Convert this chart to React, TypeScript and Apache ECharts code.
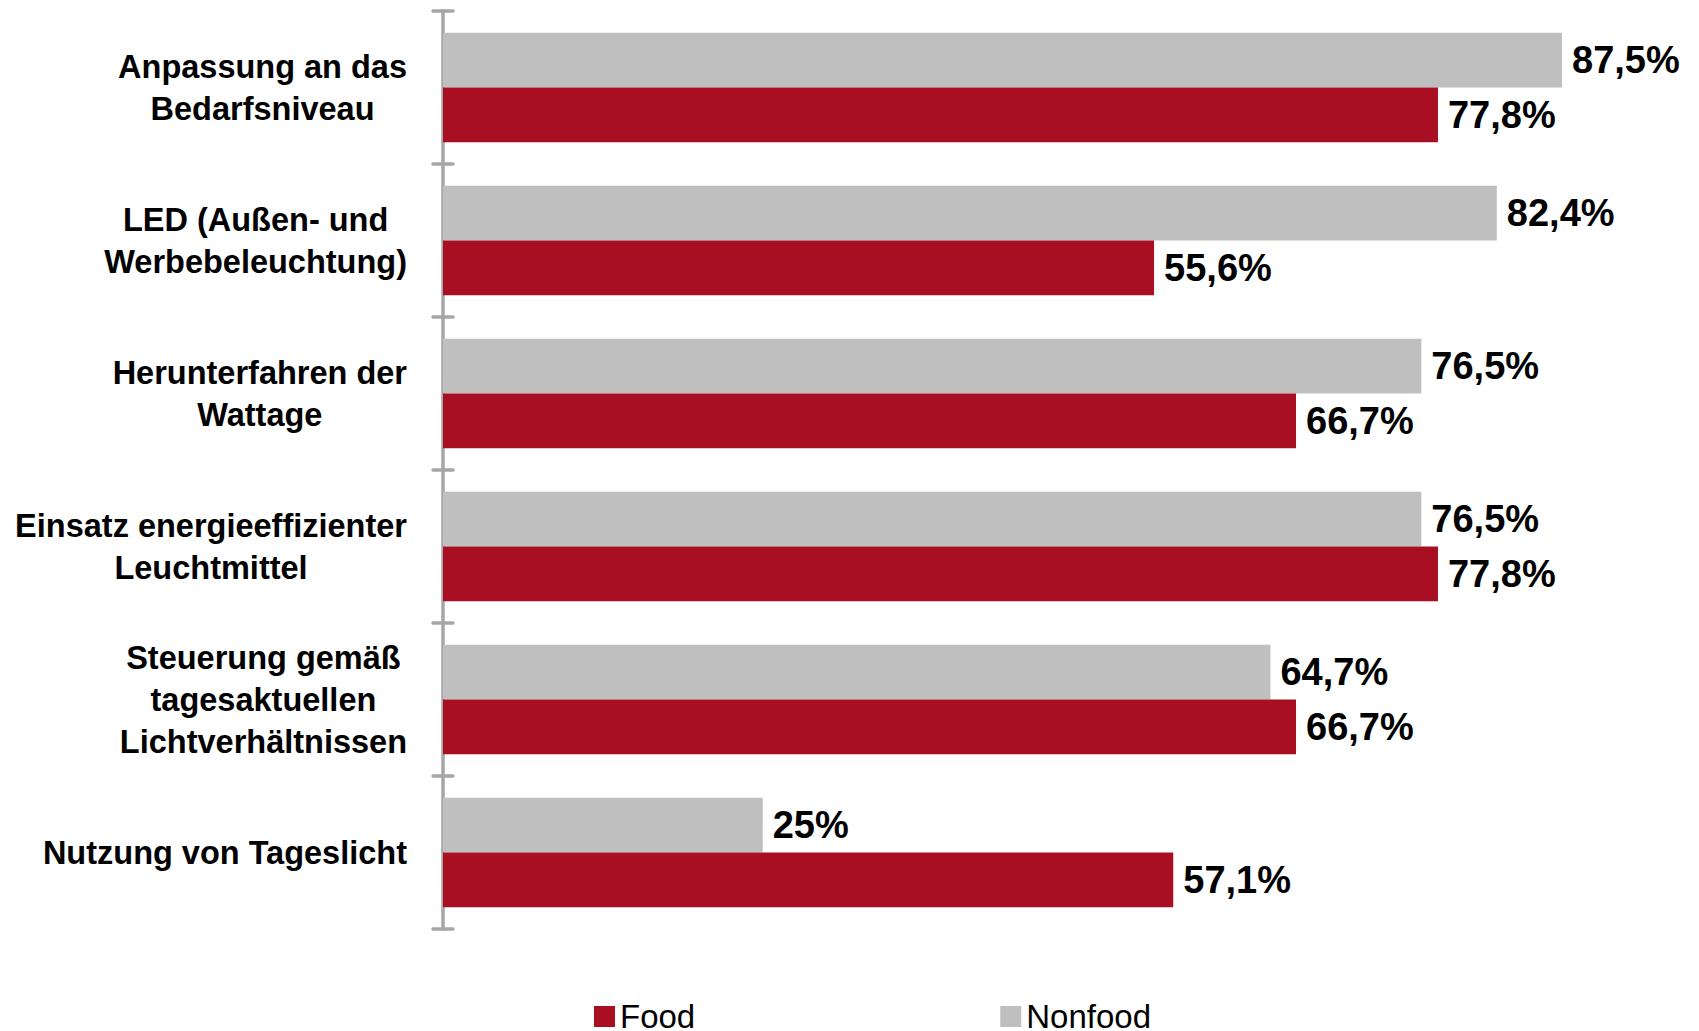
import React, { useEffect, useRef } from "react";
import * as echarts from "echarts";

const categories = [
  "Anpassung an das\nBedarfsniveau",
  "LED (Außen- und\nWerbebeleuchtung)",
  "Herunterfahren der\nWattage",
  "Einsatz energieeffizienter\nLeuchtmittel",
  "Steuerung gemäß\ntagesaktuellen\nLichtverhältnissen",
  "Nutzung von Tageslicht",
];
const nonfoodValues = [87.5, 82.4, 76.5, 76.5, 64.7, 25];
const foodValues = [77.8, 55.6, 66.7, 77.8, 66.7, 57.1];
const legendNames = ["Food", "Nonfood"];

const FONT = "'Liberation Sans', Arial, Helvetica, sans-serif";
const RED = "#a80f22";
const GRAY = "#bfbfbf";
const AXIS = "#a6a6a6";

const fmt = (v: number) => String(v).replace(".", ",") + "%";

export default function App() {
  const ref = useRef<HTMLDivElement>(null);
  useEffect(() => {
    if (!ref.current) return;
    const chart = echarts.init(ref.current, undefined, { renderer: "svg" });
    const valueLabel = {
      show: true,
      position: "right" as const,
      distance: 10,
      fontFamily: FONT,
      fontWeight: "bold" as const,
      fontSize: 38,
      color: "#000",
      formatter: (p: any) => fmt(p.value),
    };
    chart.setOption({
      animation: false,
      backgroundColor: "#fff",
      grid: { left: 443, right: 105, top: 11, bottom: 102, containLabel: false },
      xAxis: { type: "value", min: 0, max: 90, show: false, splitLine: { show: false } },
      yAxis: [
        {
          type: "category",
          data: categories,
          inverse: true,
          position: "left",
          axisLine: { show: true, lineStyle: { color: AXIS, width: 3.5 } },
          axisTick: { show: true, inside: false, length: 10, lineStyle: { color: AXIS, width: 3.5, cap: "round" } },
          axisLabel: {
            margin: 36,
            align: "right",
            formatter: (v: string) => v.split("\n").map((l) => `{c|${l}}`).join("\n"),
            rich: {
              c: {
                align: "center",
                fontFamily: FONT,
                fontWeight: "bold",
                fontSize: 32.5,
                lineHeight: 42,
                color: "#000",
              },
            },
          },
        },
        {
          type: "category",
          data: categories,
          inverse: true,
          position: "left",
          axisLine: { show: false },
          axisTick: { show: true, inside: true, length: 10, lineStyle: { color: AXIS, width: 3.5, cap: "round" } },
          axisLabel: { show: false },
        },
      ],
      legend: {
        data: legendNames,
        left: 589,
        top: 995,
        itemWidth: 21,
        itemHeight: 21,
        itemGap: 305,
        icon: "rect",
        textStyle: { fontFamily: FONT, fontSize: 33, color: "#000" },
      },
      series: [
        {
          name: "Nonfood",
          type: "bar",
          yAxisIndex: 0,
          data: nonfoodValues,
          itemStyle: { color: GRAY },
          barGap: "0%",
          barCategoryGap: "28.5%",
          label: valueLabel,
        },
        {
          name: "Food",
          type: "bar",
          yAxisIndex: 0,
          data: foodValues,
          itemStyle: { color: RED },
          barGap: "0%",
          barCategoryGap: "28.5%",
          label: valueLabel,
        },
      ],
    });
    return () => chart.dispose();
  }, []);
  return (
    <div
      ref={ref}
      style={{ position: "absolute", left: 0, top: 0, width: 1699, height: 1031 }}
    />
  );
}
